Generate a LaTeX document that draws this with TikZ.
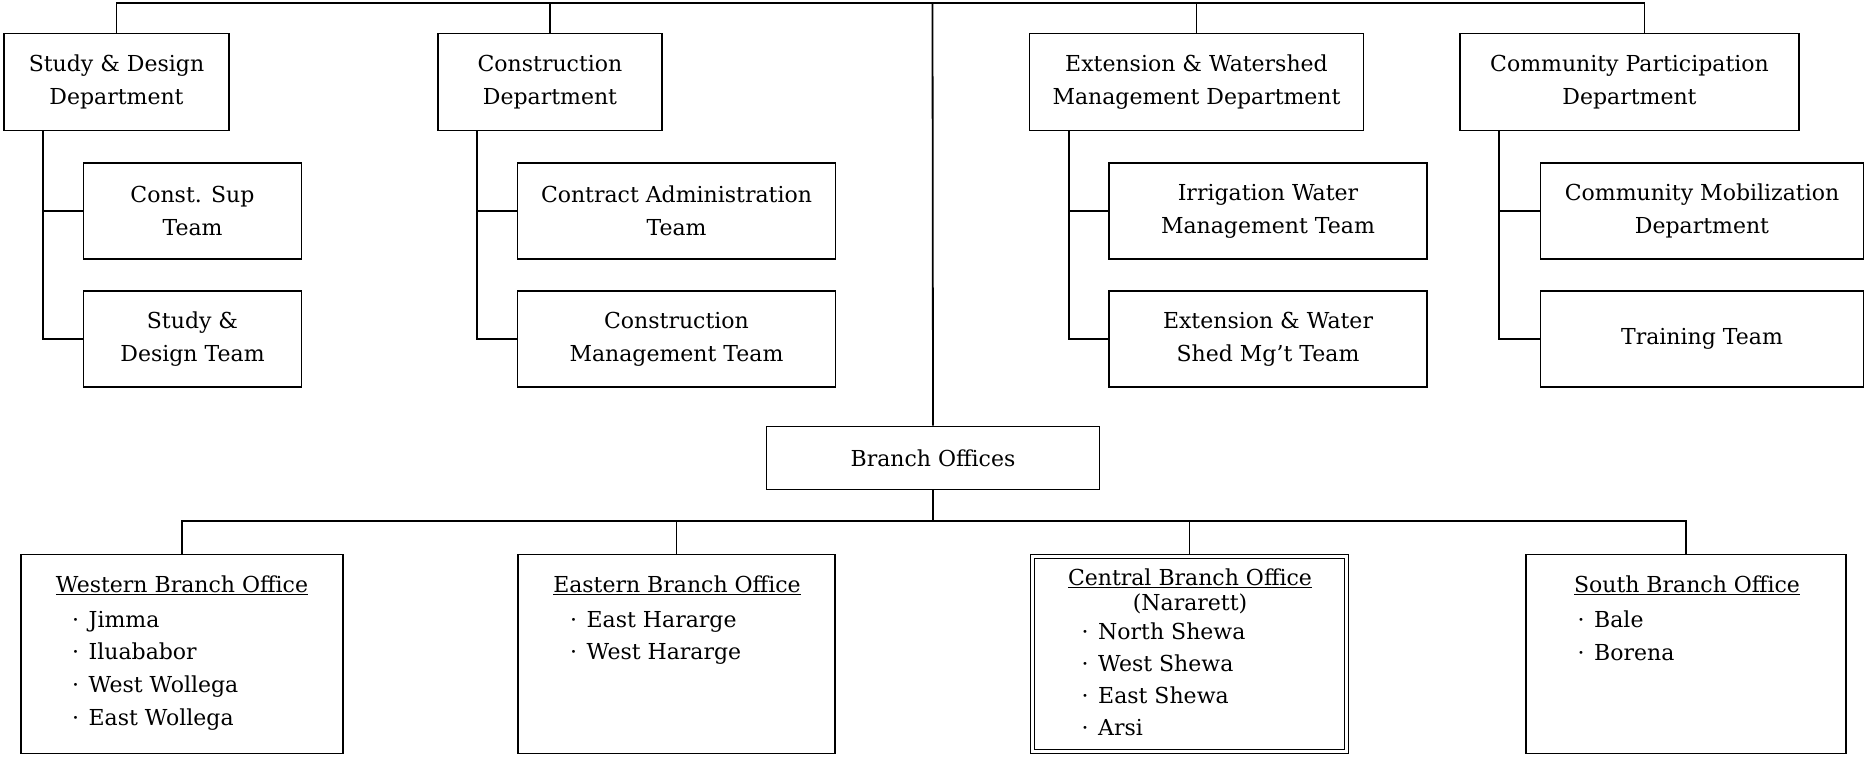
\documentclass[tikz,border=0pt]{standalone}
\usepackage{fontspec}
\setmainfont{DejaVu Serif}
\usepackage{tikz}

\begin{document}
\begin{tikzpicture}[x=1pt,y=-1pt,
    txt/.style={inner sep=0pt, font=\fontsize{22}{33}\selectfont},
    box/.style={txt, draw, line width=1.8pt, align=center},
    dept/.style={box, minimum height=97pt},
    team/.style={box, minimum height=96pt},
    office/.style={box, minimum height=199pt},
    title/.style={txt, anchor=base},
    item/.style={txt, anchor=base west},
    link/.style={line width=1.8pt}]
      \useasboundingbox (0,0) rectangle (1865,756);

      % Departments
      \node[dept, minimum width=225pt] (sdd) at (116.5,82) {Study \& Design\\Department};
      \node[dept, minimum width=224pt] (cd) at (550,82) {Construction\\Department};
      \node[dept, minimum width=334pt] (ewd) at (1196.5,82) {Extension \& Watershed\\Management Department};
      \node[dept, minimum width=339pt] (cpd) at (1629.5,82) {Community Participation\\Department};

      % Teams
      \node[team, minimum width=218pt] (cst) at (192.5,211) {Const. Sup\\Team};
      \node[team, minimum width=218pt] (sdt) at (192.5,339) {Study \&\\Design Team};
      \node[team, minimum width=318pt] (cat) at (676.5,211) {Contract Administration\\Team};
      \node[team, minimum width=318pt] (cmt) at (676.5,339) {Construction\\Management Team};
      \node[team, minimum width=318pt] (iwt) at (1268,211) {Irrigation Water\\Management Team};
      \node[team, minimum width=318pt] (ewt) at (1268,339) {Extension \& Water\\Shed Mg't Team};
      \node[team, minimum width=323pt] (cmd) at (1702,211) {Community Mobilization\\Department};
      \node[team, minimum width=323pt] (trt) at (1702,339) {Training Team};

      \node[box, minimum width=333pt, minimum height=63pt] (bo) at (933,458) {Branch Offices};

      % Branch offices
      \node[office, minimum width=322pt] (wbo) at (182,654) {};
      \node[office, minimum width=317pt] (ebo) at (676.5,654) {};
      \node[office, minimum width=314pt, minimum height=195pt, line width=1.2pt,
            double, double distance=2.4pt] (cbo) at (1189.5,654) {};
      \node[office, minimum width=320pt] (sbo) at (1686,654) {};

      % Top bar
      \coordinate (top) at (932.5,3);
      \draw[link] (sdd.north) |- (top) -| ([xshift=15pt]cpd.north);
      \draw[link] (cd.north) -- (cd.north |- top);
      \draw[link] (ewd.north) -- (ewd.north |- top);
      \draw[link] (top) -- (bo.north);

      % Department to team links
      \foreach \d/\a/\b in {sdd/cst/sdt, cd/cat/cmt, ewd/iwt/ewt, cpd/cmd/trt} {
        \draw[link] ([xshift=40pt]\d.south west) |- (\b.west);
        \draw[link] ([xshift=40pt]\d.south west |- \a.west) -- (\a.west);
      }

      % Branch bar
      \coordinate (bus) at (933,521);
      \draw[link] (bo.south) -- (bus);
      \draw[link] (wbo.north) |- (bus) -| (sbo.north);
      \draw[link] (ebo.north |- bus) -- (ebo.north);
      \draw[link] (cbo.north |- bus) -- ([yshift=2.4pt]cbo.north);

      % Office contents
      \node[title] (wt) at (182,592) {\underline{Western Branch Office}};
      \foreach \t [count=\i from 0] in {Jimma, Iluababor, West Wollega, East Wollega}
        \node[item] (wi\i) at (72, {627+32.7*\i}) {·\hspace{9.5pt}\t};

      \node[title] (et) at (677,592) {\underline{Eastern Branch Office}};
      \foreach \t [count=\i from 0] in {East Hararge, West Hararge}
        \node[item] (ei\i) at (570, {627+32.7*\i}) {·\hspace{9.5pt}\t};

      \node[title] (ct) at (1190,585) {\underline{Central Branch Office}};
      \node[title] (cn) at (1190,610) {(Nararett)};
      \foreach \t [count=\i from 0] in {North Shewa, West Shewa, East Shewa, Arsi}
        \node[item] (ci\i) at (1081.5, {639+32*\i}) {·\hspace{9.5pt}\t};

      \node[title] (st) at (1687,592) {\underline{South Branch Office}};
      \foreach \t [count=\i from 0] in {Bale, Borena}
        \node[item] (si\i) at (1577.5, {627.5+32.7*\i}) {·\hspace{9.5pt}\t};

    \end{tikzpicture}
\end{document}
